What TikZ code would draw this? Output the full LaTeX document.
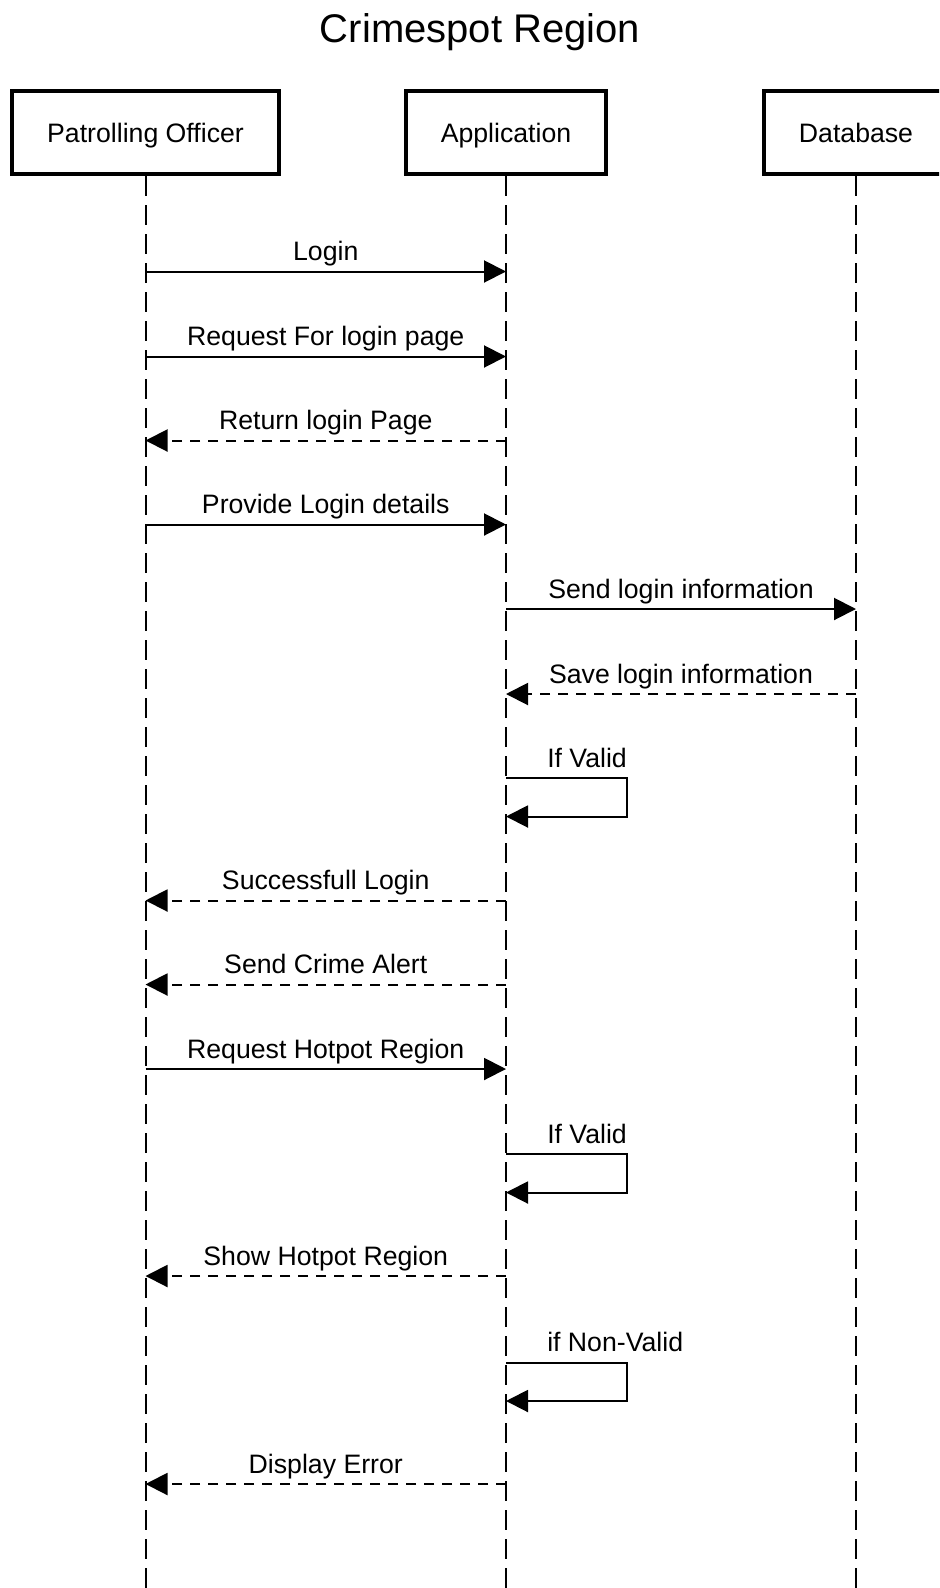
\documentclass[tikz,border=0pt]{standalone}
\usepackage{fontspec}
\setmainfont{Liberation Sans}
\usetikzlibrary{arrows.meta}
\begin{document}
\begin{tikzpicture}[x=0.75pt,y=-0.75pt,
  lbl/.style={font=\fontsize{20}{24}\selectfont, text=black, anchor=base, inner sep=0pt, yshift=8.25pt},
  looplbl/.style={font=\fontsize{20}{24}\selectfont, text=black, anchor=base west, inner sep=0pt},
  actor/.style={draw=black, line width=3pt, fill=white, minimum height=62.25pt, inner sep=0pt,
    font=\fontsize{20}{24}\selectfont, text height=14.3pt, text depth=0pt},
  life/.style={line width=1.5pt, dash pattern=on 15pt off 6.75pt},
  msg/.style={line width=1.5pt, -{Triangle[length=16.5pt,width=16.5pt]}},
  ret/.style={msg, dash pattern=on 7.5pt off 6pt}]
\useasboundingbox (0,0) rectangle (939,1588);
\clip (0,0) rectangle (939,1588);
\fill[white] (0,0) rectangle (939,1588);

\node[font=\fontsize{30}{36}\selectfont, anchor=base, inner sep=0pt] (title) at (480,42) {Crimespot Region};

\node[actor, minimum width=200.25pt] (po) at (145.5,132.5) {Patrolling Officer};
\node[actor, minimum width=150pt] (ap) at (506,132.5) {Application};
\node[actor, minimum width=138pt] (db) at (856,132.5) {Database};

\coordinate (bot) at (0,1600);
\draw[life] (po.south) -- (po.south |- bot);
\draw[life] (ap.south) -- (ap.south |- bot);
\draw[life] (db.south) -- (db.south |- bot);

\foreach \n/\y in {1/271.5, 2/356.5, 3/440.5, 4/524.5, 5/609, 6/694, 8/900.5, 9/984.5, 10/1069, 12/1276, 14/1484}{
  \coordinate (p\n) at (145.5,\y);
  \coordinate (a\n) at (506,\y);
  \coordinate (d\n) at (856,\y);
}
\foreach \n/\t/\b in {7/778/816.5, 11/1154/1192.5, 13/1362.5/1401}{
  \coordinate (lt\n) at (506,\t);
  \coordinate (lr\n) at (627,\t);
  \coordinate (lb\n) at (506,\b);
}

\draw[msg] (p1) -- node[lbl] (t1) {Login} (a1);
\draw[msg] (p2) -- node[lbl] (t2) {Request For login page} (a2);
\draw[ret] (a3) -- node[lbl] (t3) {Return login Page} (p3);
\draw[msg] (p4) -- node[lbl] (t4) {Provide Login details} (a4);
\draw[msg] (a5) -- node[lbl] (t5) {Send login information} (d5);
\draw[ret] (d6) -- node[lbl] (t6) {Save login information} (a6);

\draw[msg] (lt7) -- (lr7) |- (lb7);
\node[looplbl] (t7) at (547,767) {If Valid};

\draw[ret] (a8) -- node[lbl] (t8) {Successfull Login} (p8);
\draw[ret] (a9) -- node[lbl] (t9) {Send Crime Alert} (p9);
\draw[msg] (p10) -- node[lbl] (t10) {Request Hotpot Region} (a10);

\draw[msg] (lt11) -- (lr11) |- (lb11);
\node[looplbl] (t11) at (547,1143) {If Valid};

\draw[ret] (a12) -- node[lbl] (t12) {Show Hotpot Region} (p12);

\draw[msg] (lt13) -- (lr13) |- (lb13);
\node[looplbl] (t13) at (547,1351.5) {if Non-Valid};

\draw[ret] (a14) -- node[lbl] (t14) {Display Error} (p14);
\end{tikzpicture}
\end{document}
